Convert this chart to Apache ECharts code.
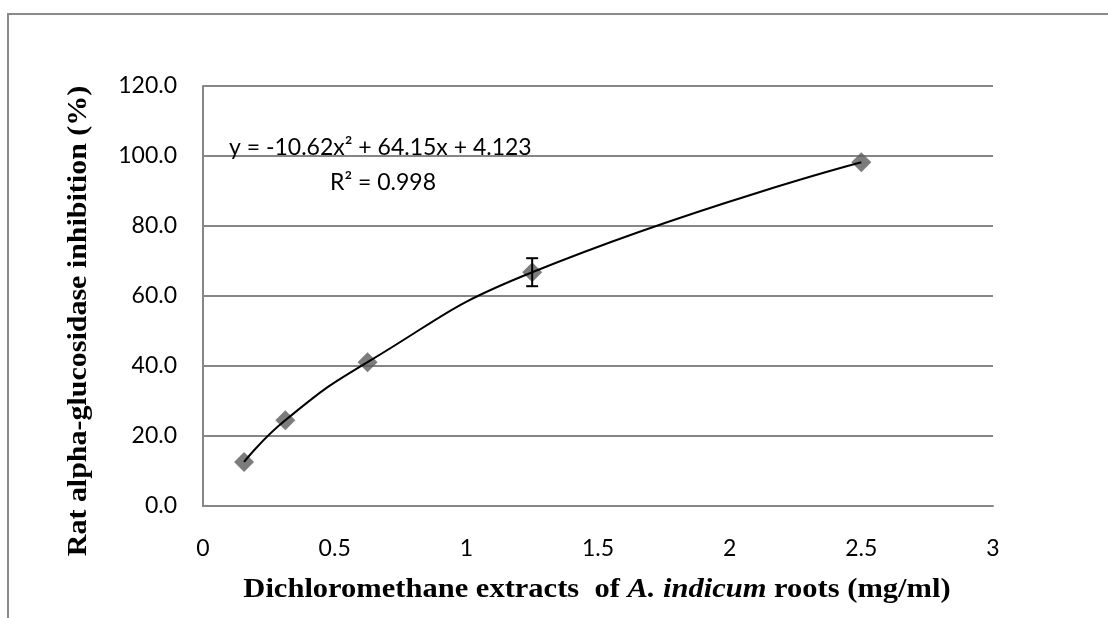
<!DOCTYPE html>
<html>
<head>
<meta charset="utf-8">
<script src="https://cdn.jsdelivr.net/npm/echarts@6/dist/echarts.min.js"></script>
<style>
    html, body { margin: 0; padding: 0; background: #fff; }
    #main { width: 1108px; height: 618px; }
</style>
</head>
<body>
<div id="main"></div>
<script>
// concentrations (mg/ml) and % inhibition
var concentrations = [0.156, 0.3125, 0.625, 1.25, 2.5];
var inhibition = [12.6, 24.5, 41.1, 66.8, 98.2];
var errorSize = [0, 0, 0, 4.0, 0];
var xTicks = [0, 0.5, 1, 1.5, 2, 2.5, 3];
var yTicks = [0, 20, 40, 60, 80, 100, 120];
var equationText = 'y = -10.62x\u00b2 + 64.15x + 4.123';
var r2Text = 'R\u00b2 = 0.998';

function drawChart() {
    var chartDom = document.getElementById('main');
    var myChart = echarts.init(chartDom);
    var option;

    var points = concentrations.map(function (x, i) { return [x, inhibition[i]]; });
    var errBars = [];
    concentrations.forEach(function (x, i) {
        if (errorSize[i] > 0) {
            errBars.push([x, inhibition[i] - errorSize[i], inhibition[i] + errorSize[i]]);
        }
    });

    var gridColor = '#868686';
    var tickFont = 'Lato, "Open Sans", sans-serif';
    var titleFont = '"Liberation Serif", "Times New Roman", serif';

    option = {
        backgroundColor: '#fff',
        animation: false,
        grid: { left: 203, right: 115, top: 86, bottom: 112 },
        xAxis: {
            type: 'value',
            min: xTicks[0],
            max: xTicks[xTicks.length - 1],
            interval: xTicks[1] - xTicks[0],
            axisLine: { lineStyle: { color: gridColor, width: 2 } },
            axisTick: { show: false },
            splitLine: { show: false },
            axisLabel: { margin: 31, color: '#000', fontSize: 23, fontFamily: tickFont }
        },
        yAxis: {
            type: 'value',
            min: yTicks[0],
            max: yTicks[yTicks.length - 1],
            interval: yTicks[1] - yTicks[0],
            axisLine: { show: true, lineStyle: { color: gridColor, width: 2 } },
            axisTick: { show: false },
            splitLine: { lineStyle: { color: gridColor, width: 2 } },
            axisLabel: {
                margin: 26, color: '#000', fontSize: 23, fontFamily: tickFont,
                formatter: function (v) { return v.toFixed(1); }
            }
        },
        graphic: [
            {
                type: 'polyline',
                shape: { points: [[8, 618], [8, 14], [1108, 14]] },
                style: { stroke: '#8a8a8a', lineWidth: 2, fill: null }
            },
            {
                // y axis title
                type: 'text',
                x: 79, y: 321,
                rotation: Math.PI / 2,
                scaleX: 1.11,
                style: {
                    text: 'Rat alpha-glucosidase inhibition (%)',
                    font: 'bold 27px ' + titleFont,
                    fill: '#000',
                    align: 'center',
                    verticalAlign: 'middle'
                }
            },
            {
                // x axis title
                type: 'text',
                x: 597, y: 590,
                scaleX: 1.13,
                style: {
                    text: '{b|Dichloromethane extracts  of }{i|A. indicum}{b| roots (mg/ml)}',
                    align: 'center',
                    verticalAlign: 'middle',
                    rich: {
                        b: { fontFamily: titleFont, fontWeight: 'bold', fontSize: 27, fill: '#000' },
                        i: { fontFamily: titleFont, fontWeight: 'bold', fontStyle: 'italic', fontSize: 27, fill: '#000' }
                    }
                }
            },
            {
                type: 'text',
                x: 229, y: 148,
                z: 10,
                style: {
                    text: equationText,
                    font: '23px ' + tickFont,
                    fill: '#000',
                    align: 'left',
                    verticalAlign: 'middle'
                }
            },
            {
                type: 'text',
                x: 383, y: 183,
                z: 10,
                style: {
                    text: r2Text,
                    font: '23px ' + tickFont,
                    fill: '#000',
                    align: 'center',
                    verticalAlign: 'middle'
                }
            }
        ],
        series: [
            {
                name: 'data',
                type: 'scatter',
                symbol: 'diamond',
                symbolSize: 20,
                itemStyle: { color: '#5b5b5b' },
                z: 2,
                data: points
            },
            {
                // trend line drawn through the measured points
                name: 'trend',
                type: 'line',
                smooth: 0.5,
                showSymbol: false,
                lineStyle: { color: '#000', width: 2 },
                z: 3,
                data: points
            },
            {
                name: 'error',
                type: 'custom',
                z: 4,
                renderItem: function (params, api) {
                    var x = api.value(0);
                    var lo = api.coord([x, api.value(1)]);
                    var hi = api.coord([x, api.value(2)]);
                    var cap = 6;
                    var style = { stroke: '#000', lineWidth: 2 };
                    return {
                        type: 'group',
                        children: [
                            { type: 'line', shape: { x1: lo[0], y1: lo[1], x2: hi[0], y2: hi[1] }, style: style },
                            { type: 'line', shape: { x1: lo[0] - cap, y1: lo[1], x2: lo[0] + cap, y2: lo[1] }, style: style },
                            { type: 'line', shape: { x1: hi[0] - cap, y1: hi[1], x2: hi[0] + cap, y2: hi[1] }, style: style }
                        ]
                    };
                },
                encode: { x: 0, y: [1, 2] },
                data: errBars
            }
        ]
    };

    option && myChart.setOption(option);
}

drawChart();
</script>
</body>
</html>
